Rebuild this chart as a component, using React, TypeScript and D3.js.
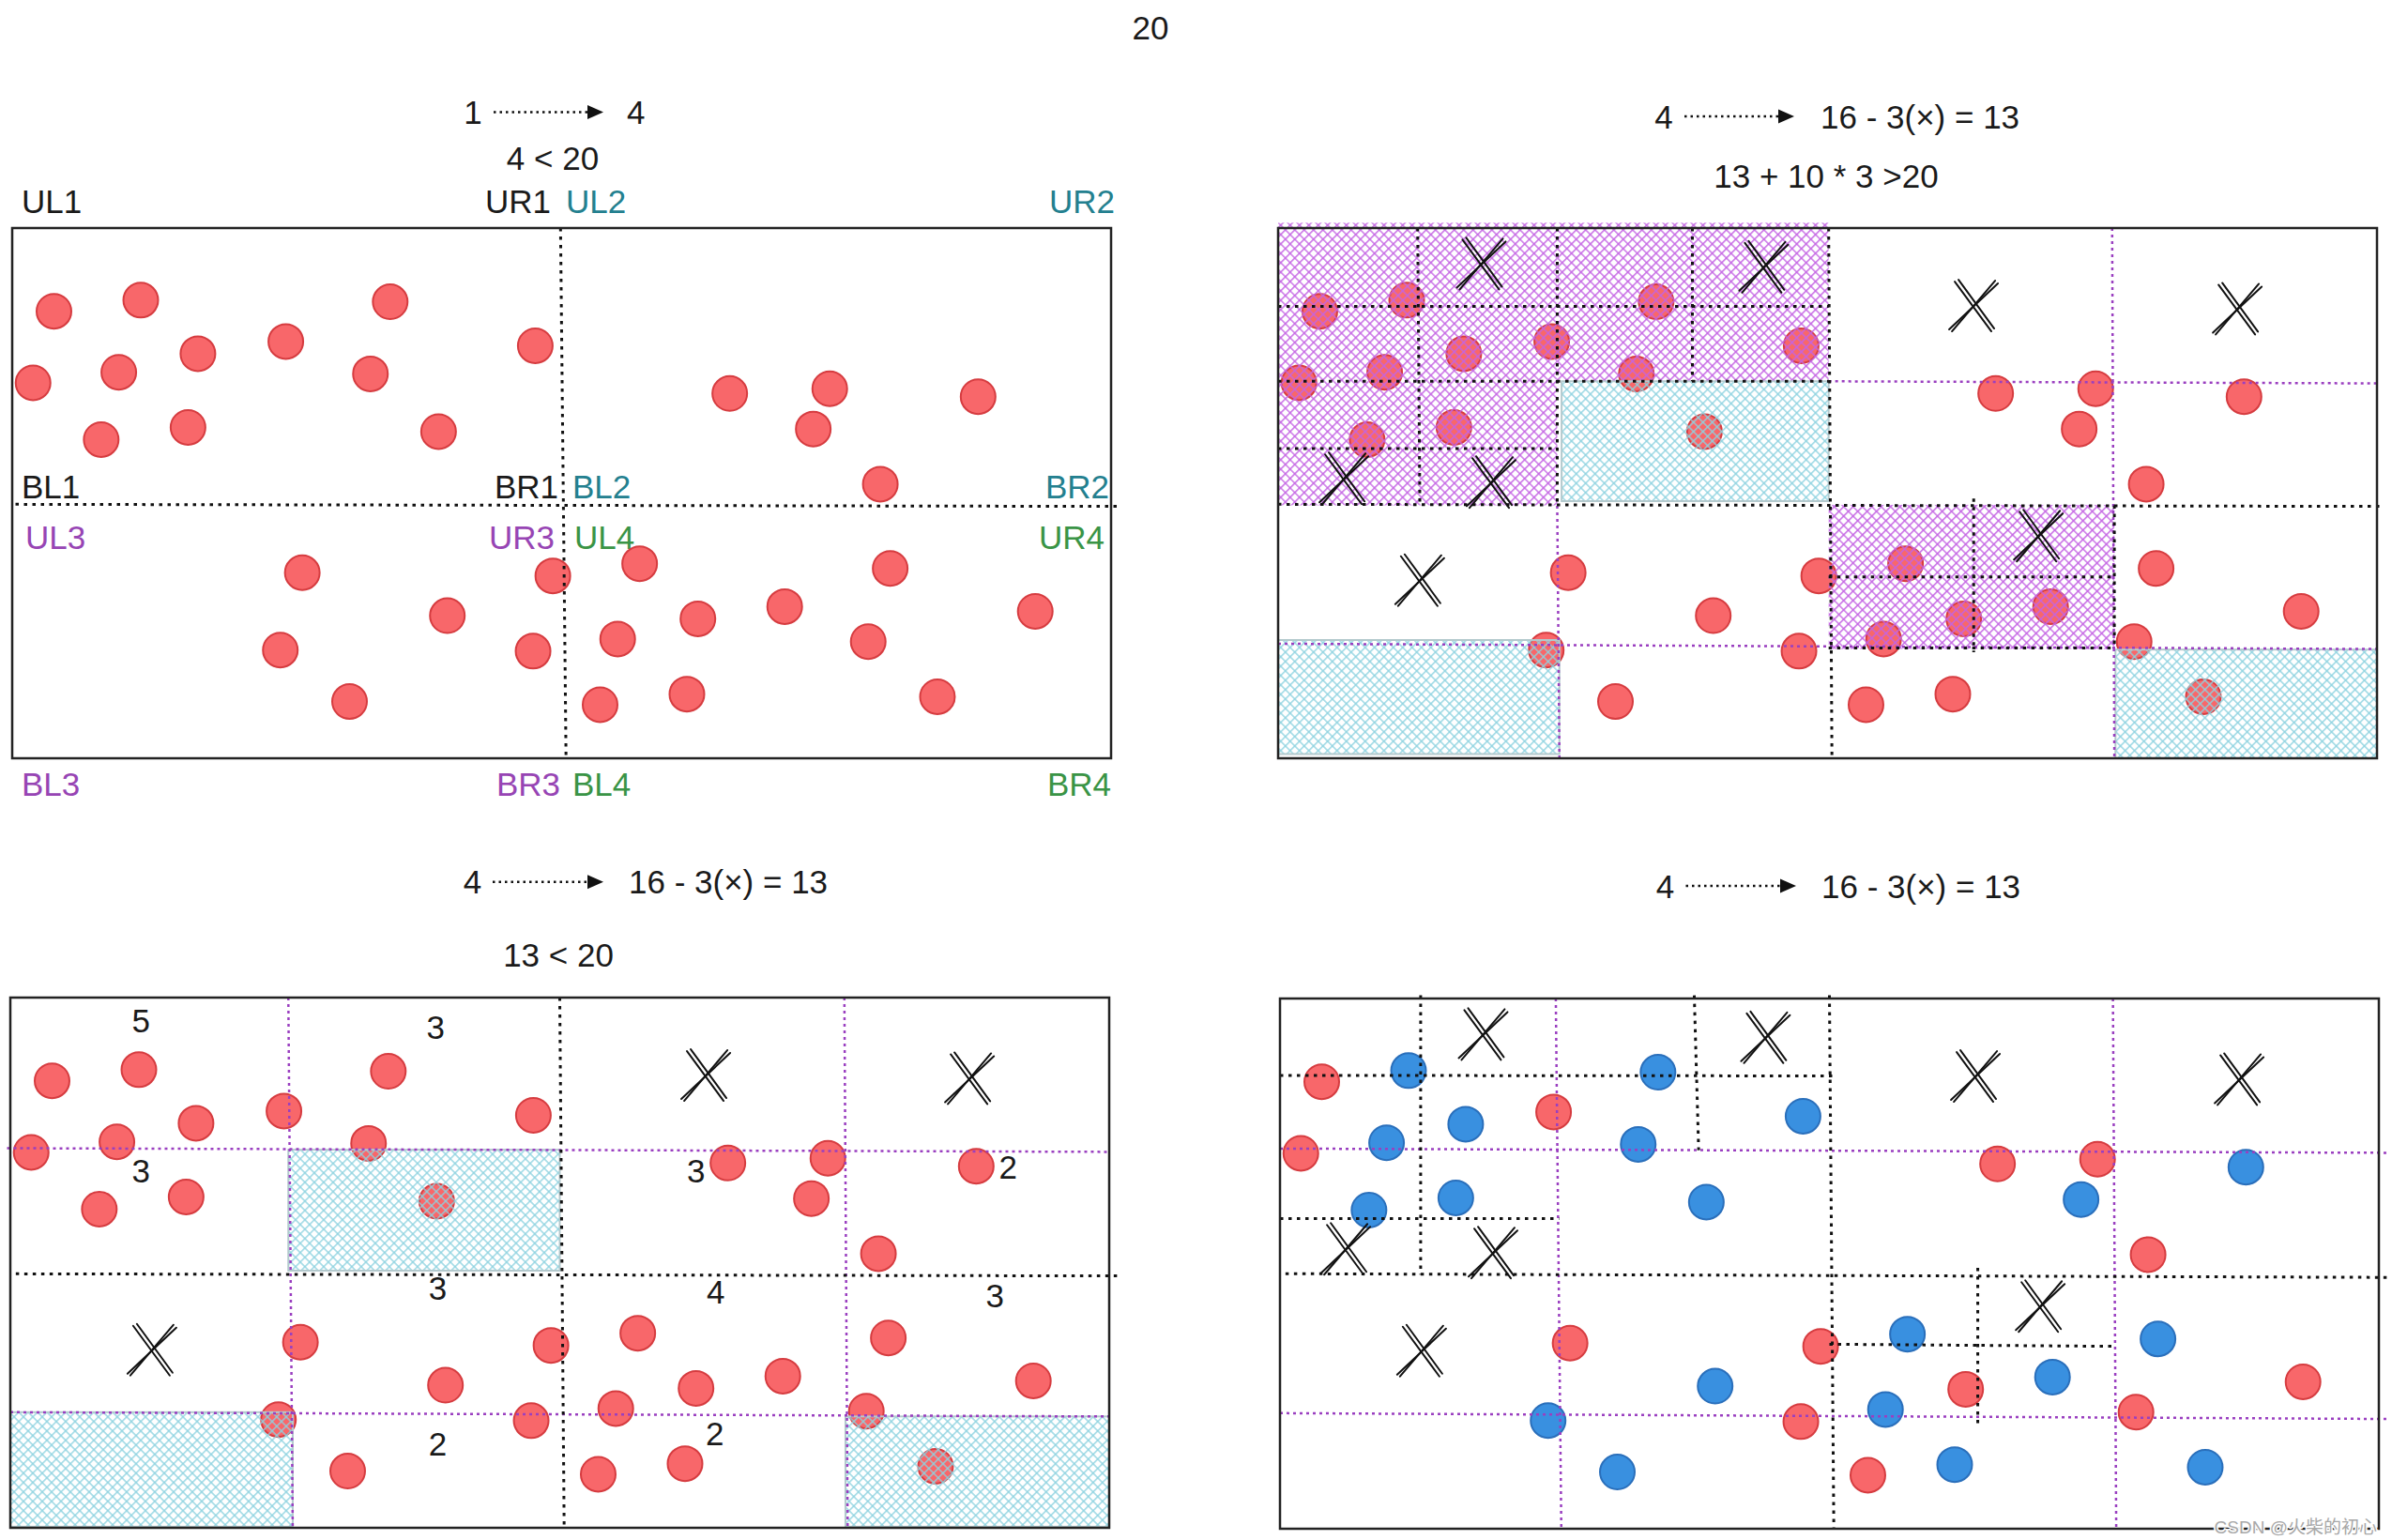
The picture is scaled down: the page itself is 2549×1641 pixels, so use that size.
import React from 'react';
import * as d3 from 'd3';

const W = 2549;
const H = 1641;
const PW = 1171;
const PH = 565;
const FONT = 'Liberation Sans, Arial, sans-serif';

// ---------- data (percent of panel width / height) ----------
const pointX = [3.8, 11.7, 16.9, 9.7, 1.9, 8.1, 16.0, 24.9, 34.4, 32.6, 38.8, 47.6, 65.3, 74.4, 72.9, 87.9, 79.0, 26.4, 39.6, 24.4, 30.7, 49.2, 47.4, 57.1, 55.1, 62.4, 70.3, 79.9, 77.9, 61.4, 53.5, 84.2, 93.1];
const pointY = [15.7, 13.6, 23.7, 27.2, 29.2, 39.9, 37.6, 21.4, 13.9, 27.5, 38.4, 22.2, 31.2, 30.3, 37.9, 31.8, 48.3, 65.0, 73.1, 79.6, 89.3, 65.6, 79.8, 63.3, 77.5, 73.7, 71.4, 64.2, 78.0, 87.9, 89.9, 88.4, 72.3];
const splitClass = 'rbbbrbbrbbbbrrbbrrbbbrrbbrbbrbrbr'.split('');

const xMarkX = [18.4, 44.1, 5.9, 19.3, 63.2, 87.2, 12.8, 69.1];
const xMarkY = [6.8, 7.4, 47.3, 48.0, 14.7, 15.3, 66.5, 58.1];
const panel3XMarks = [4, 5, 6];

const countLabels = ['5', '3', '3', '3', '2', '3', '4', '3', '2', '2'];
const countX = [11.9, 38.7, 11.9, 62.4, 90.8, 38.9, 64.2, 89.6, 38.9, 64.1];
const countY = [4.4, 5.5, 32.7, 32.7, 32.0, 54.8, 55.4, 56.2, 84.1, 82.2];

type Seg = [number, number, number, number];

const p1Black: Seg[] = [[49.9, 0, 50.4, 100], [0.3, 52.1, 100.6, 52.5]];

const p2Black: Seg[] = [
  [50.1, 0, 50.4, 100], [0, 52.1, 100.5, 52.5], [0, 28.9, 50.1, 28.9], [25.4, 0, 25.4, 52.3],
  [12.7, 0, 12.9, 52.3], [0, 14.8, 50.1, 14.8], [37.7, 0, 37.7, 28.9], [0, 41.6, 25.4, 41.6],
  [63.3, 51, 63.3, 80], [50.1, 65.8, 76.1, 65.8], [50.1, 79.2, 76.1, 79.2], [76.1, 52.3, 76.1, 79.2],
];
const p2Purple: Seg[] = [[75.9, 0, 76.1, 100], [25.4, 52.4, 25.6, 100], [50.1, 28.9, 100, 29.3], [0, 78.4, 100, 79.4]];
const p2Violet: Seg[] = [[0, -1, 25.4, 28.9], [25.4, -1, 50.1, 28.9], [0, 28.9, 25.4, 52.3], [50.1, 52.2, 76.1, 79.4]];
const p2Cyan: Seg[] = [[25.8, 28.9, 50.1, 51.5], [0, 77.7, 25.6, 99.2], [76.2, 79.5, 100, 100]];

const p3Black: Seg[] = [[50.0, 0, 50.4, 100], [0.5, 52.1, 100.8, 52.5]];
const p3Purple: Seg[] = [[25.3, 0, 25.7, 100], [75.9, 0, 76.2, 100], [-0.3, 28.4, 100, 29.1], [0, 78.2, 100, 79.0]];
const p3Cyan: Seg[] = [[25.3, 28.7, 50.0, 51.5], [0, 78.2, 25.7, 99.8], [76.0, 79.0, 100, 99.8]];

const p4Black: Seg[] = [
  [50.0, -0.6, 50.4, 100], [0.5, 51.9, 100.8, 52.6], [12.8, -0.6, 12.8, 52.1], [0, 14.5, 50.4, 14.6],
  [37.7, -0.6, 38.1, 28.6], [0, 41.5, 25.4, 41.5], [63.5, 50.8, 63.5, 80.1], [50.0, 65.2, 76.1, 65.6],
];
const p4Purple: Seg[] = [[25.1, 0, 25.6, 100], [75.8, 0, 76.1, 100], [0, 28.3, 100.8, 29.1], [0, 78.2, 100.8, 79.3]];

const quadLabels = ['UL1', 'UR1', 'UL2', 'UR2', 'BL1', 'BR1', 'BL2', 'BR2', 'UL3', 'UR3', 'UL4', 'UR4', 'BL3', 'BR3', 'BL4', 'BR4'];
const quadLabelGroup = [1, 1, 2, 2, 1, 1, 2, 2, 3, 3, 4, 4, 3, 3, 4, 4];

// ---------- layout ----------
const ORIGINS: [number, number][] = [[13, 243], [1362, 243], [11, 1063], [1364, 1064]];
const labelPos: [number, number, 'start' | 'end'][] = [
  [23, 214, 'start'], [587, 214, 'end'], [603, 214, 'start'], [1188, 214, 'end'],
  [23, 518, 'start'], [595, 518, 'end'], [610, 518, 'start'], [1182, 518, 'end'],
  [27, 572, 'start'], [591, 572, 'end'], [612, 572, 'start'], [1177, 572, 'end'],
  [23, 835, 'start'], [597, 835, 'end'], [610, 835, 'start'], [1184, 835, 'end'],
];
const groupColor: Record<number, string> = { 1: '#1a1a1a', 2: '#23808f', 3: '#9745b4', 4: '#3a9446' };

const RED = { fill: '#f8676a', stroke: '#d63c40' };
const BLUE = { fill: '#3990e0', stroke: '#2a6fbb' };

function scalesFor(i: number) {
  const [ox, oy] = ORIGINS[i];
  return {
    sx: d3.scaleLinear().domain([0, 100]).range([ox, ox + PW]),
    sy: d3.scaleLinear().domain([0, 100]).range([oy, oy + PH]),
  };
}

type S = ReturnType<typeof scalesFor>;

function Points({ s, colored }: { s: S; colored?: boolean }) {
  return (
    <g>
      {pointX.map((x, i) => {
        const c = colored && splitClass[i] === 'b' ? BLUE : RED;
        return <circle key={i} cx={s.sx(x)} cy={s.sy(pointY[i])} r={18.5} fill={c.fill} stroke={c.stroke} strokeWidth={2} />;
      })}
    </g>
  );
}

function Lines({ segs, s, kind }: { segs: Seg[]; s: S; kind: 'black' | 'purple' }) {
  const style = kind === 'black'
    ? { stroke: '#111', strokeWidth: 3, strokeDasharray: '3.5 5.5' }
    : { stroke: '#9a3fc0', strokeWidth: 2.5, strokeDasharray: '3 4' };
  return (
    <g>
      {segs.map((d, i) => (
        <line key={i} x1={s.sx(d[0])} y1={s.sy(d[1])} x2={s.sx(d[2])} y2={s.sy(d[3])} {...style} />
      ))}
    </g>
  );
}

function Hatch({ rects, s, kind }: { rects: Seg[]; s: S; kind: 'violet' | 'cyan' }) {
  return (
    <g>
      {rects.map((d, i) => (
        <rect key={i} x={s.sx(d[0])} y={s.sy(d[1])} width={s.sx(d[2]) - s.sx(d[0])} height={s.sy(d[3]) - s.sy(d[1])}
          fill={kind === 'violet' ? 'url(#violetHatch)' : 'url(#cyanHatch)'}
          stroke={kind === 'cyan' ? '#b3c9cd' : 'none'} strokeWidth={2} />
      ))}
    </g>
  );
}

const X_STROKES = [
  [-19, -26, 20, 27], [-15, -28, 23, 24], [27, -24, -25, 25], [24, -27, -22, 27],
];

function XMarks({ idx, s }: { idx: number[]; s: S }) {
  return (
    <g>
      {idx.map((k) => (
        <g key={k} transform={`translate(${s.sx(xMarkX[k])},${s.sy(xMarkY[k])})`}>
          {X_STROKES.map((l, j) => (
            <line key={j} x1={l[0]} y1={l[1]} x2={l[2]} y2={l[3]} stroke="#111" strokeWidth={2} strokeLinecap="round" />
          ))}
        </g>
      ))}
    </g>
  );
}

function Box({ s }: { s: S }) {
  return <rect x={s.sx(0)} y={s.sy(0)} width={PW} height={PH} fill="none" stroke="#222" strokeWidth={2.5} />;
}

function Arrow({ x1, x2, y }: { x1: number; x2: number; y: number }) {
  const hx = x2 - 17;
  return (
    <g>
      <line x1={x1} y1={y} x2={hx} y2={y} stroke="#111" strokeWidth={2.5} strokeDasharray="2.5 4" />
      <path d={`M${hx},${y - 7.5}L${x2},${y}L${hx},${y + 7.5}Z`} fill="#111" />
    </g>
  );
}

function T({ x, y, children, anchor = 'middle', fill = '#1a1a1a', size = 35 }: any) {
  return (
    <text x={x} y={y} textAnchor={anchor} dominantBaseline="central" fill={fill} fontSize={size} fontFamily={FONT}>
      {children}
    </text>
  );
}

export default function App() {
  const s1 = scalesFor(0);
  const s2 = scalesFor(1);
  const s3 = scalesFor(2);
  const s4 = scalesFor(3);
  const allX = xMarkX.map((_, i) => i);

  return (
    <svg width={W} height={H} style={{ position: 'absolute', left: 0, top: 0, display: 'block', background: '#fff' }}>
      <defs>
        <pattern id="violetHatch" width={7.07} height={7.07} patternUnits="userSpaceOnUse" patternTransform="rotate(45)">
          <path d="M0,3.535H7.07M3.535,0V7.07" stroke="#c463e4" strokeWidth={1.4} fill="none" />
        </pattern>
        <pattern id="cyanHatch" width={7.07} height={7.07} patternUnits="userSpaceOnUse" patternTransform="rotate(45)">
          <path d="M0,3.535H7.07M3.535,0V7.07" stroke="#8dd2e0" strokeWidth={1.3} fill="none" />
        </pattern>
      </defs>
      <rect x={0} y={0} width={W} height={H} fill="#fff" />

      <T x={1226} y={29}>20</T>

      {/* Panel 1 */}
      <T x={504} y={119.5}>1</T>
      <Arrow x1={526} x2={643} y={119.5} />
      <T x={668} y={119.5} anchor="start">4</T>
      <T x={589} y={168}>4 &lt; 20</T>
      {quadLabels.map((lab, i) => (
        <T key={lab} x={labelPos[i][0]} y={labelPos[i][1]} anchor={labelPos[i][2]} fill={groupColor[quadLabelGroup[i]]}>{lab}</T>
      ))}
      <Points s={s1} />
      <Lines segs={p1Black} s={s1} kind="black" />
      <Box s={s1} />

      {/* Panel 2 */}
      <T x={1773} y={124}>4</T>
      <Arrow x1={1795} x2={1912} y={124} />
      <T x={1940} y={124} anchor="start">16 - 3(×) = 13</T>
      <T x={1946} y={187.5}>13 + 10 * 3 &gt;20</T>
      <Points s={s2} />
      <Hatch rects={p2Violet} s={s2} kind="violet" />
      <Hatch rects={p2Cyan} s={s2} kind="cyan" />
      <Lines segs={p2Purple} s={s2} kind="purple" />
      <Lines segs={p2Black} s={s2} kind="black" />
      <XMarks idx={allX} s={s2} />
      <Box s={s2} />

      {/* Panel 3 */}
      <T x={503.5} y={939.7}>4</T>
      <Arrow x1={525} x2={643} y={939.7} />
      <T x={670} y={939.7} anchor="start">16 - 3(×) = 13</T>
      <T x={595} y={1017}>13 &lt; 20</T>
      <Points s={s3} />
      <Hatch rects={p3Cyan} s={s3} kind="cyan" />
      <Lines segs={p3Purple} s={s3} kind="purple" />
      <Lines segs={p3Black} s={s3} kind="black" />
      <XMarks idx={panel3XMarks} s={s3} />
      {countLabels.map((c, i) => (
        <T key={i} x={s3.sx(countX[i])} y={s3.sy(countY[i])}>{c}</T>
      ))}
      <Box s={s3} />

      {/* Panel 4 */}
      <T x={1774.5} y={944}>4</T>
      <Arrow x1={1796.5} x2={1914} y={944} />
      <T x={1941} y={944} anchor="start">16 - 3(×) = 13</T>
      <Points s={s4} colored />
      <Lines segs={p4Purple} s={s4} kind="purple" />
      <Lines segs={p4Black} s={s4} kind="black" />
      <XMarks idx={allX} s={s4} />
      <Box s={s4} />

      <text x={2533} y={1627} textAnchor="end" dominantBaseline="central" fontSize={19}
        fontFamily="Liberation Sans, Noto Sans CJK SC, sans-serif" fill="#a8a8a8" stroke="#fff" strokeWidth={3}
        paintOrder="stroke">CSDN @火柴的初心</text>
    </svg>
  );
}
